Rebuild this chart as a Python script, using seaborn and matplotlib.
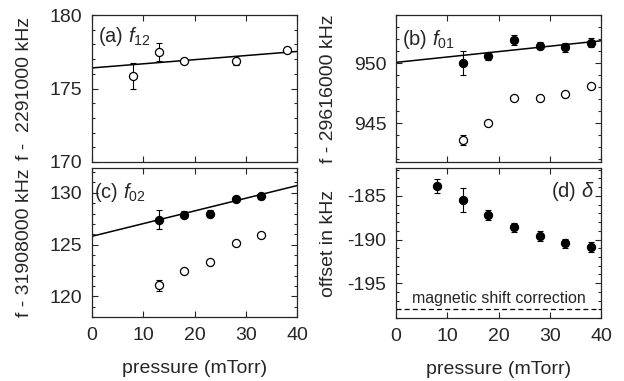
import numpy as np
import pandas as pd
import seaborn as sns
import matplotlib.pyplot as plt
from matplotlib.ticker import MultipleLocator

# pressure values (mTorr)
p_a = [8, 13, 18, 28, 38]
f12_open = [175.85, 177.5, 176.9, 176.9, 177.6]
f12_open_err = [0.9, 0.6, 0.15, 0.3, 0.15]
fit_a = [176.4, 0.028]  # intercept, slope

p_b = [13, 18, 23, 28, 33, 38]
f01_fill = [950.0, 950.55, 951.9, 951.45, 951.3, 951.7]
f01_fill_err = [1.0, 0.3, 0.4, 0.3, 0.35, 0.35]
f01_open = [943.6, 945.0, 947.1, 947.1, 947.4, 948.05]
f01_open_err = [0.4, 0.1, 0.1, 0.1, 0.1, 0.1]
fit_b = [950.05, 0.045]

p_c = [13, 18, 23, 28, 33]
f02_fill = [127.4, 127.9, 128.0, 129.4, 129.7]
f02_fill_err = [0.9, 0.3, 0.3, 0.3, 0.3]
f02_open = [121.05, 122.45, 123.3, 125.2, 125.9]
f02_open_err = [0.5, 0.1, 0.1, 0.1, 0.1]
fit_c = [125.8, 0.1225]

p_d = [8, 13, 18, 23, 28, 33, 38]
delta = [-183.9, -185.5, -187.2, -188.6, -189.6, -190.45, -190.85]
delta_err = [0.8, 1.4, 0.6, 0.5, 0.55, 0.55, 0.55]
mag_shift = -198.0

sns.set_style("ticks")
plt.rcParams['font.family'] = ['Liberation Sans', 'DejaVu Sans']
plt.rcParams['mathtext.fontset'] = 'custom'
plt.rcParams['mathtext.it'] = 'Liberation Sans:italic'
plt.rcParams['mathtext.rm'] = 'Liberation Sans'
plt.rcParams['axes.unicode_minus'] = False

fig = plt.figure(figsize=(6.24, 3.81), dpi=100)
W, H = 624, 381


def make_ax(x0, y0, x1, y1):
    return fig.add_axes([x0 / W, 1 - y1 / H, (x1 - x0) / W, (y1 - y0) / H])


ax_a = make_ax(92, 15, 297, 162)
ax_b = make_ax(396, 15, 601, 162)
ax_c = make_ax(92, 168, 297, 317)
ax_d = make_ax(396, 168, 601, 318)


def pts(ax, x, y, err, filled):
    df = pd.DataFrame({'p': x, 'v': y})
    ax.errorbar(x, y, yerr=err, fmt='none', ecolor='black', elinewidth=0.8,
                capsize=2.5, capthick=0.8, zorder=2)
    sns.scatterplot(data=df, x='p', y='v', ax=ax, s=34, marker='o',
                    color='black' if filled else 'white', edgecolor='black',
                    linewidth=0.9, zorder=3, legend=False)


def fit(ax, par):
    xx = np.array([0, 40])
    sns.lineplot(x=xx, y=par[0] + par[1] * xx, ax=ax, color='black', lw=1.1, zorder=1)


pts(ax_a, p_a, f12_open, f12_open_err, False)
fit(ax_a, fit_a)
pts(ax_b, p_b, f01_fill, f01_fill_err, True)
pts(ax_b, p_b, f01_open, f01_open_err, False)
fit(ax_b, fit_b)
pts(ax_c, p_c, f02_fill, f02_fill_err, True)
pts(ax_c, p_c, f02_open, f02_open_err, False)
fit(ax_c, fit_c)
pts(ax_d, p_d, delta, delta_err, True)
ax_d.axhline(mag_shift, color='black', ls=(0, (4, 2.5)), lw=0.9)
ax_d.text(20, mag_shift + 0.35, 'magnetic shift correction', ha='center', va='bottom', fontsize=11.5)

ax_a.set_ylim(170, 180)
ax_b.set_ylim(941.75, 954)
ax_c.set_ylim(118, 132.4)
ax_d.set_ylim(-199, -181.8)

for ax in [ax_a, ax_b, ax_c, ax_d]:
    ax.set_xlim(0, 40)
    ax.xaxis.set_major_locator(MultipleLocator(10))
    ax.yaxis.set_major_locator(MultipleLocator(5))
    ax.yaxis.set_minor_locator(MultipleLocator(1))
    ax.tick_params(which='both', direction='in', top=True, right=True, labelsize=14, width=0.8)
    ax.tick_params(which='major', length=4, pad=7)
    ax.tick_params(which='minor', length=2.5)
    for s in ax.spines.values():
        s.set_linewidth(0.9)
    ax.set_xlabel('')
    ax.set_ylabel('')

for ax in [ax_a, ax_b]:
    ax.tick_params(labelbottom=False)

ax_c.set_xlabel('pressure (mTorr)', fontsize=14, labelpad=12)
ax_d.set_xlabel('pressure (mTorr)', fontsize=14, labelpad=12)
ax_a.set_ylabel('f -  2291000 kHz', fontsize=14)
ax_c.set_ylabel('f - 31908000 kHz', fontsize=14)
ax_b.set_ylabel('f - 29616000 kHz', fontsize=14)
ax_d.set_ylabel('offset in kHz', fontsize=14)
for ax in [ax_a, ax_b, ax_c, ax_d]:
    ax.yaxis.set_label_coords(-0.29, 0.5)

ax_a.text(0.03, 0.93, r'(a) $f_{12}$', transform=ax_a.transAxes, fontsize=14.5, va='top')
ax_b.text(0.03, 0.91, r'(b) $f_{01}$', transform=ax_b.transAxes, fontsize=14.5, va='top')
ax_c.text(0.01, 0.91, r'(c) $f_{02}$', transform=ax_c.transAxes, fontsize=14.5, va='top')
ax_d.text(0.97, 0.92, r'(d) $\delta$', transform=ax_d.transAxes, fontsize=14.5, va='top', ha='right')

fig.savefig('out.png', dpi=100)
